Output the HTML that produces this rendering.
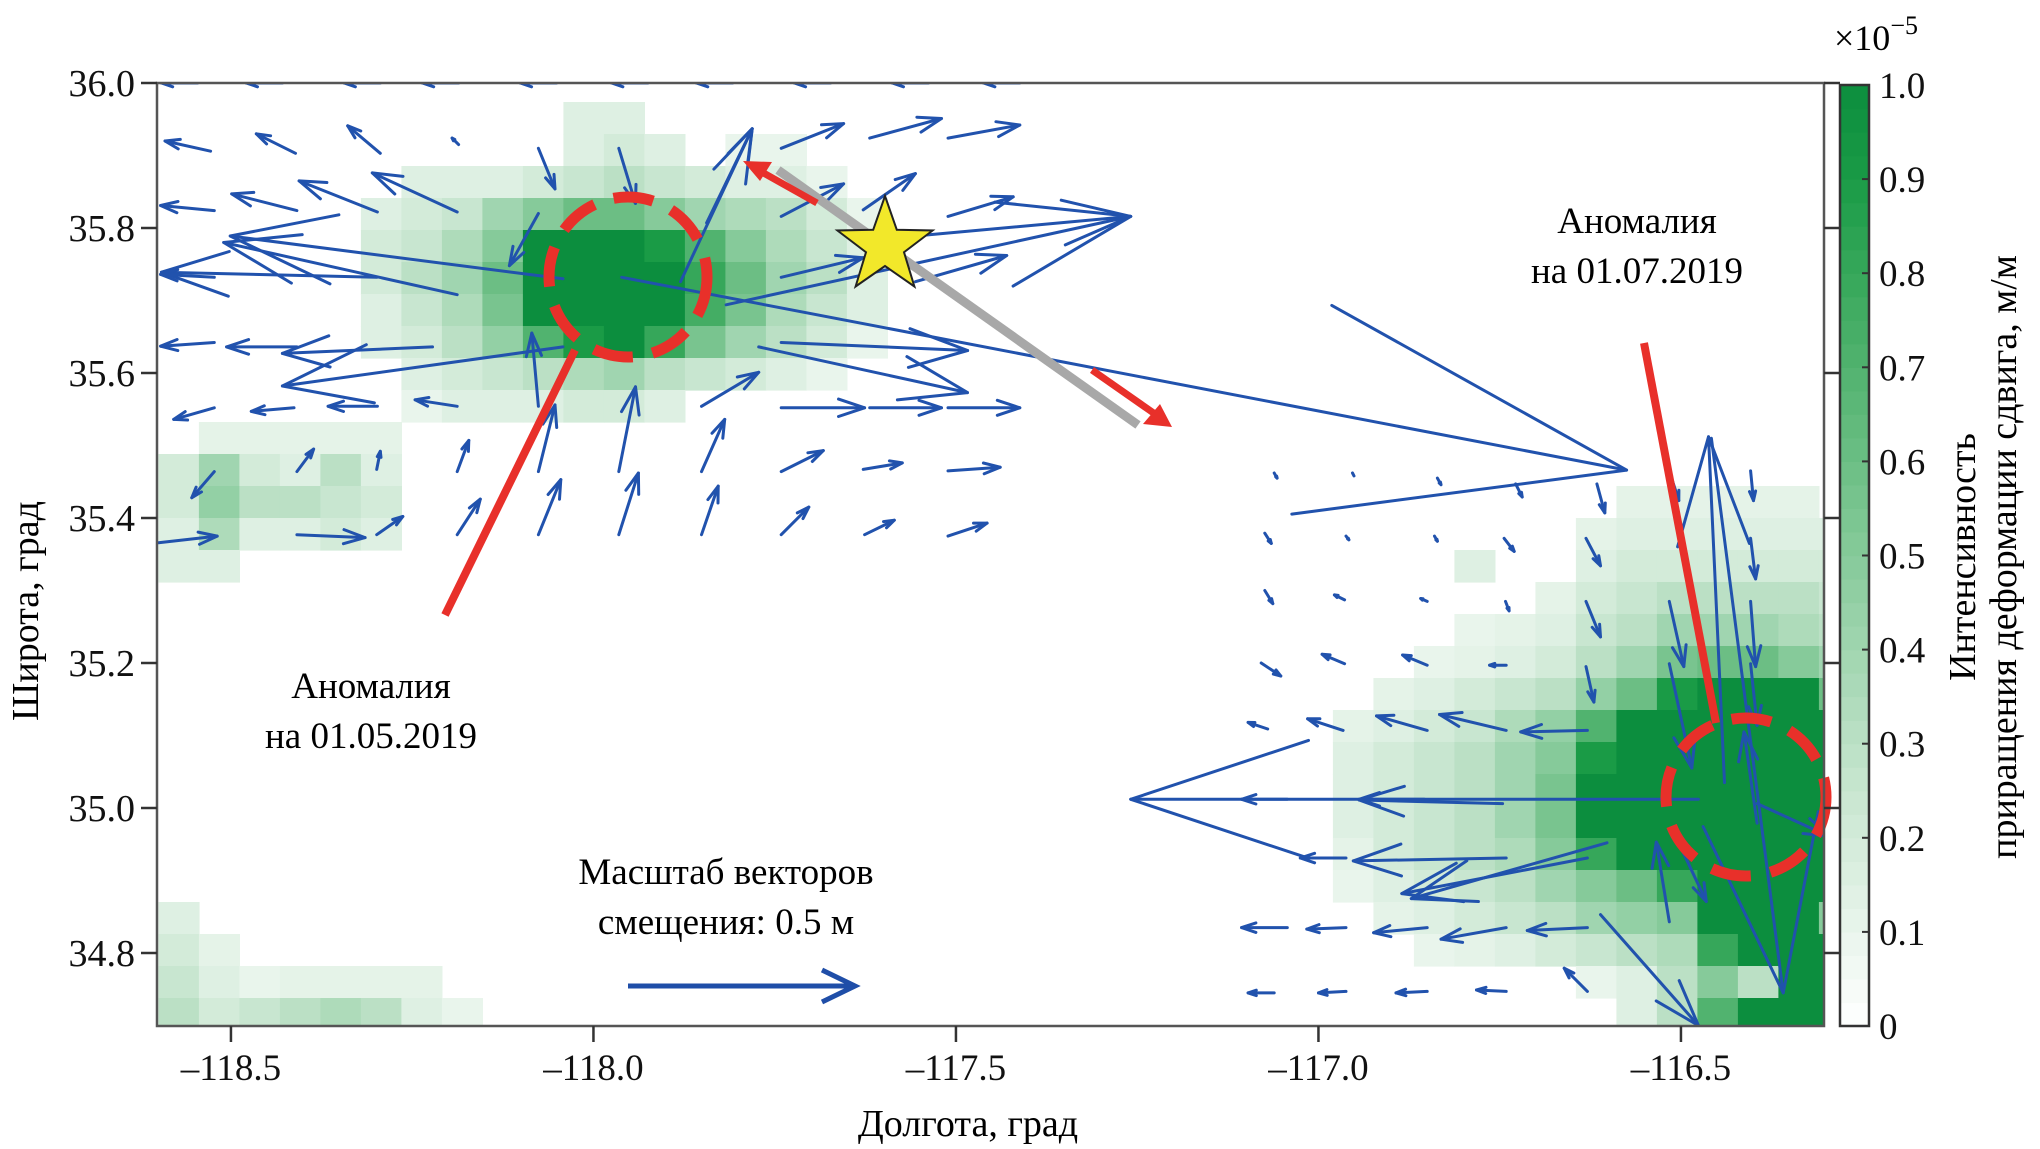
<!DOCTYPE html>
<html><head><meta charset="utf-8">
<style>
html,body{margin:0;padding:0;background:#fff;}
svg{display:block;font-family:"Liberation Serif",serif;}
</style></head>
<body>
<svg id="chart" width="2040" height="1149" viewBox="0 0 2040 1149" xmlns="http://www.w3.org/2000/svg">
<rect x="0" y="0" width="2040" height="1149" fill="#fff"/>
<clipPath id="plotclip"><rect x="157" y="83" width="1667" height="943"/></clipPath>
<g id="heat" clip-path="url(#plotclip)"></g>
<g id="arrows" clip-path="url(#plotclip)"></g>
<g id="annot">
  <line x1="778" y1="170" x2="1138" y2="425" stroke="#a8a8a8" stroke-width="9"/>
  <line x1="817" y1="203" x2="760" y2="171" stroke="#e8302a" stroke-width="7"/>
  <polygon points="743,161 772,162 760,181" fill="#e8302a"/>
  <line x1="1092" y1="370" x2="1155" y2="414" stroke="#e8302a" stroke-width="7"/>
  <polygon points="1172,427 1143,424 1160,404" fill="#e8302a"/>
  <polygon id="star" fill="#f2e82a" stroke="#222" stroke-width="2"/>
  <line x1="445" y1="615" x2="575" y2="350" stroke="#e8302a" stroke-width="8"/>
  <line x1="1644" y1="343" x2="1716" y2="723" stroke="#e8302a" stroke-width="8"/>
  <ellipse cx="628" cy="277" rx="79" ry="80" fill="none" stroke="#e8302a" stroke-width="11" stroke-dasharray="40 20"/>
  <ellipse cx="1746" cy="797" rx="80" ry="79" fill="none" stroke="#e8302a" stroke-width="11" stroke-dasharray="40 20"/>
  <text x="371" y="698" font-size="37" text-anchor="middle">Аномалия</text>
  <text x="371" y="748" font-size="37" text-anchor="middle">на 01.05.2019</text>
  <text x="1637" y="233" font-size="37" text-anchor="middle">Аномалия</text>
  <text x="1637" y="283" font-size="37" text-anchor="middle">на 01.07.2019</text>
  <text x="726" y="884" font-size="37" text-anchor="middle">Масштаб векторов</text>
  <text x="726" y="934" font-size="37" text-anchor="middle">смещения: 0.5 м</text>
  <line x1="628" y1="986" x2="855" y2="986" stroke="#1f4ea8" stroke-width="5"/>
  <polyline points="822,970 855,986 822,1002" fill="none" stroke="#1f4ea8" stroke-width="5"/>
</g>
<rect x="157" y="83" width="1667" height="943" fill="none" stroke="#555" stroke-width="2.5"/>
<g id="axes"></g>
<text x="968" y="1136" font-size="38" text-anchor="middle">Долгота, град</text>
<text transform="translate(38,611) rotate(-90)" font-size="38" text-anchor="middle">Широта, град</text>
<g id="cbar"></g>
<text x="1834" y="50" font-size="36">×10<tspan dy="-16" font-size="26">−5</tspan></text>
<text transform="translate(1975,557) rotate(-90)" font-size="38" text-anchor="middle">Интенсивность</text>
<text transform="translate(2016,557) rotate(-90)" font-size="38" text-anchor="middle">приращения деформации сдвига, м/м</text>
</svg>
<script>
// ---- data ----
const xTicks = [-118.5, -118.0, -117.5, -117.0, -116.5];
const xTickLabels = ["–118.5", "–118.0", "–117.5", "–117.0", "–116.5"];
const yTicks = [34.8, 35.0, 35.2, 35.4, 35.6, 35.8, 36.0];
const yTickLabels = ["34.8", "35.0", "35.2", "35.4", "35.6", "35.8", "36.0"];
const cbarTicks = [0, 0.1, 0.2, 0.3, 0.4, 0.5, 0.6, 0.7, 0.8, 0.9, 1.0];
const cbarTickLabels = ["0", "0.1", "0.2", "0.3", "0.4", "0.5", "0.6", "0.7", "0.8", "0.9", "1.0"];
const heatLon0 = -118.6, heatDLon = 0.05586, heatLat0 = 36.018, heatDLat = 0.04414;
// [row index, first column index, intensities]
const heatRows = [
 [1,10,[.15,.15]],
 [2,10,[.15,.2,.15,0,.1,.1]],
 [3,6,[.15,.15,.15,.2,.25,.3,.25,.2,.15,.15,.1]],
 [4,5,[.15,.2,.25,.4,.5,.6,.6,.5,.4,.35,.3,.2,.1]],
 [5,5,[.2,.25,.35,.5,1,1,1,.9,.7,.5,.35,.25,.15]],
 [6,5,[.2,.3,.4,.6,1,1,1,1,.8,.6,.4,.3,.15]],
 [7,5,[.15,.25,.35,.55,1,1,1,1,.75,.55,.35,.25,.15]],
 [8,5,[.15,.2,.3,.45,.7,.9,1,.8,.55,.4,.3,.2,.1]],
 [9,6,[.15,.2,.25,.3,.35,.4,.3,.25,.2,.15,.1]],
 [10,6,[.1,.15,.15,.15,.2,.2,.15]],
 [11,1,[.12,.12,.12,.12,.12]],
 [12,0,[.2,.4,.2,.15,.3,.15]],
 [13,0,[.2,.45,.3,.3,.25,.2]],
 [14,0,[.15,.35,.15,.15,.2,.15]],
 [15,0,[.15,.15]],
 [26,0,[.15]],
 [27,0,[.2,.12]],
 [28,0,[.25,.15,.1,.12,.12,.12,.12]],
 [29,0,[.3,.2,.25,.3,.35,.3,.15,.1]],
 [13,36,[.12,.12,.12,.12,.12]],
 [14,35,[.12,.15,.15,.15,.15,.15,.15]],
 [15,32,[.15,0,0,.15,.2,.2,.2,.2,.2,.2]],
 [16,34,[.12,.2,.25,.3,.3,.3,.3,.25]],
 [17,32,[.1,.12,.15,.25,.3,.4,.4,.4,.35,.3]],
 [18,31,[.1,.12,.15,.2,.3,.4,.55,.6,.6,.5,.4]],
 [19,30,[.12,.15,.2,.25,.3,.45,.6,.9,1,1,1,.6]],
 [20,29,[.12,.15,.2,.25,.35,.45,.7,1,1,1,1,1,1]],
 [21,29,[.15,.2,.25,.3,.4,.5,.9,1,1,1,1,1,1]],
 [22,29,[.15,.2,.25,.3,.4,.55,1,1,1,1,1,1,1]],
 [23,29,[.15,.2,.25,.3,.4,.55,1,1,1,1,1,1,1]],
 [24,29,[.12,.2,.25,.3,.35,.5,.8,1,1,1,1,1,1]],
 [25,29,[.1,.15,.2,.25,.3,.4,.5,.6,.8,1,1,1,1]],
 [26,30,[.12,.15,.2,.25,.3,.4,.45,.5,1,1,1,.5]],
 [27,31,[.1,.12,.15,.2,.25,.3,.35,.8,1,1,1]],
 [28,35,[.1,.15,.3,.5,.3,1,1]],
 [29,36,[.15,.3,.7,1,1,1]]
];
// vectors: tail lon, tail lat, u (deg lon), v (deg lat)
const vecLon = [
 -118.546,-118.429,-118.294,-118.186,-118.051,-117.925,-117.808,-117.673,-117.538,-117.412,
 -118.528,-118.411,-118.294,-118.186,-118.076,-117.965,-117.844,-117.88,-117.741,-117.619,-117.511,
 -118.523,-118.409,-118.298,-118.188,-118.076,-117.741,-117.628,-117.511,-117.556,-117.817,-117.556,
 -118.299,-118.042,-118.188,-117.741,-117.961,-118.523,
 -118.523,-118.409,-118.222,-118.042,-118.076,-117.741,-117.772,
 -118.523,-118.413,-118.298,-118.188,-117.851,-117.741,-117.619,-117.511,
 -118.523,-118.409,-118.299,-118.188,-118.076,-117.965,-117.851,-117.741,-117.628,-117.511,
 -118.6,-118.409,-118.299,-118.188,-118.076,-117.965,-117.851,-117.741,-117.626,-117.511,
 -117.061,-116.953,-116.836,-116.728,-116.616,-116.516,-116.404,
 -117.074,-116.962,-116.84,-116.744,-116.631,-116.404,
 -117.074,-116.964,-116.85,-116.742,-116.631,-116.516,-116.404,
 -117.079,-116.964,-116.85,-116.741,-116.631,-116.516,-116.404,
 -117.07,-116.966,-116.85,-116.741,-116.629,
 -116.476,-117.043,-116.854,-116.746,-116.395,-116.395,
 -116.962,-116.741,-116.602,-116.629,-116.516,-116.499,
 -117.043,-116.962,-116.85,-116.741,-116.629,
 -117.061,-116.962,-116.85,-116.741,-116.629,
 -116.458,-116.44,-116.611
];
const vecLat = [
 36.0,36.0,36.0,36.0,36.0,36.0,36.0,36.0,36.0,36.0,
 35.906,35.903,35.903,35.915,35.91,35.91,35.807,35.726,35.91,35.924,35.924,
 35.824,35.824,35.822,35.822,35.82,35.816,35.825,35.816,35.789,35.694,35.726,
 35.732,35.73,35.708,35.732,35.732,35.732,
 35.642,35.636,35.636,35.636,35.554,35.642,35.636,
 35.552,35.552,35.554,35.554,35.554,35.552,35.552,35.552,
 35.464,35.464,35.467,35.464,35.464,35.464,35.464,35.464,35.467,35.465,
 35.366,35.377,35.377,35.377,35.377,35.377,35.377,35.377,35.377,35.375,
 35.462,35.462,35.455,35.447,35.447,35.465,35.465,
 35.379,35.375,35.375,35.372,35.372,35.372,
 35.3,35.287,35.285,35.285,35.285,35.285,35.285,
 35.2,35.199,35.197,35.197,35.195,35.199,35.199,
 35.109,35.107,35.107,35.107,35.107,
 35.012,35.012,35.012,35.006,35.006,34.979,
 34.931,34.931,34.952,34.931,34.843,34.943,
 34.835,34.835,34.835,34.835,34.835,
 34.745,34.747,34.747,34.747,34.747,
 35.51,35.035,34.853
];
const vecU = [
 -0.05,-0.05,-0.05,-0.05,-0.05,-0.05,-0.05,-0.05,-0.05,-0.05,
 -0.063,-0.054,-0.045,-0.009,0.023,0.023,0.063,0.099,0.086,0.099,0.099,
 -0.074,-0.09,-0.108,-0.117,-0.04,0.086,0.072,0.09,0.297,0.558,0.126,
 -0.297,-0.459,-0.322,0.113,1.386,-0.074,
 -0.074,-0.097,-0.207,-0.387,-0.009,0.257,0.288,
 -0.056,-0.059,-0.068,-0.058,0.079,0.115,0.099,0.099,
 -0.031,0.023,0.005,0.016,0.023,0.023,0.032,0.058,0.054,0.072,
 0.081,0.094,0.036,0.032,0.031,0.027,0.023,0.038,0.041,0.054,
 0.004,0.002,0.005,0.009,0.011,0.013,0.004,
 0.009,0.004,0.004,0.014,0.02,0.007,
 0.011,-0.014,-0.009,0.005,0.02,0.02,0.007,
 0.027,-0.031,-0.034,-0.023,0.011,0.031,0.009,
 -0.027,-0.049,-0.07,-0.092,-0.092,
 -0.783,-0.063,-0.09,-0.198,0.099,-0.018,
 -0.063,-0.211,-0.27,-0.256,-0.018,0.034,
 -0.063,-0.054,-0.074,-0.09,-0.083,
 -0.036,-0.038,-0.043,-0.041,-0.032,
 0.099,-0.022,0.135
];
const vecV = [
 0,0,0,0,0,0,0,0,0,0,
 0.014,0.027,0.038,0.009,-0.056,-0.076,0.13,0.211,0.034,0.027,0.018,
 0.007,0.023,0.043,0.054,-0.072,0.045,0.05,0.027,0.027,0.122,0.036,
 0.007,0.059,0.072,0.027,-0.266,0.004,
 -0.005,0,-0.009,-0.054,0.101,-0.011,-0.063,
 -0.016,-0.005,0,0.009,0.047,0,0,0,
 -0.036,0.031,0.025,0.043,0.092,0.117,0.072,0.029,0.009,0.005,
 0.009,-0.004,0.025,0.049,0.076,0.085,0.067,0.038,0.02,0.018,
 -0.007,-0.004,-0.009,-0.018,-0.04,-0.041,-0.041,
 -0.014,-0.005,-0.007,-0.018,-0.038,-0.056,
 -0.018,0.007,0.004,-0.013,-0.049,-0.09,-0.09,
 -0.018,0.013,0.014,0,-0.049,-0.144,-0.085,
 0.009,0.016,0.02,0.022,-0.002,
 0,0,0,0.005,-0.045,0.126,
 0,-0.004,-0.077,-0.049,0.11,-0.072,
 0,-0.002,-0.007,-0.016,-0.004,
 0,-0.002,-0.002,0.002,0.032,
 -0.765,0.477,-0.153
];

// ---- scales ----
const LON0 = -118.602, LAT1 = 36.0, PX = 725, X0 = 157, Y0 = 83;
function xS(lon){ return X0 + (lon - LON0) * PX; }
function yS(lat){ return Y0 + (LAT1 - lat) * PX; }
const CB_X = 1840, CB_W = 29, CB_TOP = 85, CB_BOT = 1026;
function cbY(v){ return CB_BOT - v * (CB_BOT - CB_TOP); }
const stops = [[0,[255,255,255]],[0.25,[200,230,208]],[0.5,[134,202,154]],[0.75,[68,173,100]],[0.9,[26,155,70]],[1,[12,142,62]]];
function color(v){
  v = Math.max(0, Math.min(1, v));
  for (let i = 1; i < stops.length; i++){
    if (v <= stops[i][0]){
      const a = stops[i-1], b = stops[i], t = (v - a[0]) / (b[0] - a[0]);
      const c = a[1].map((c0, k) => Math.round(c0 + (b[1][k] - c0) * t));
      return `rgb(${c[0]},${c[1]},${c[2]})`;
    }
  }
  return "rgb(12,142,62)";
}
const NS = "http://www.w3.org/2000/svg";
function mk(tag, attrs, parent){
  const e = document.createElementNS(NS, tag);
  for (const k in attrs) e.setAttribute(k, attrs[k]);
  parent.appendChild(e);
  return e;
}

// ---- heatmap ----
const heat = document.getElementById("heat");
heatRows.forEach(r => {
  const row = r[0], c0 = r[1];
  r[2].forEach((v, k) => {
    if (v <= 0) return;
    const lonL = heatLon0 + (c0 + k) * heatDLon, lonR = lonL + heatDLon;
    const latT = heatLat0 - row * heatDLat, latB = latT - heatDLat;
    const x = xS(lonL), y = yS(latT);
    const el = mk("rect", {x: x.toFixed(1), y: y.toFixed(1), width: (xS(lonR) - x + 0.6).toFixed(1), height: (yS(latB) - y + 0.6).toFixed(1), fill: color(v)}, heat);
    
    
  });
});

// ---- vectors ----
const arrows = document.getElementById("arrows");
for (let i = 0; i < vecLon.length; i++){
  const x1 = xS(vecLon[i]), y1 = yS(vecLat[i]);
  const x2 = xS(vecLon[i] + vecU[i]), y2 = yS(vecLat[i] + vecV[i]);
  const dx = x2 - x1, dy = y2 - y1, L = Math.hypot(dx, dy);
  const g = mk("g", {stroke: "#2152ad", "stroke-width": 3, fill: "none", "stroke-linecap": "round", "stroke-linejoin": "round"}, arrows);
  
  
  mk("line", {x1: x1.toFixed(1), y1: y1.toFixed(1), x2: x2.toFixed(1), y2: y2.toFixed(1)}, g);
  if (L > 4){
    const hl = L * 0.33, ang = Math.atan2(dy, dx), a = 0.32;
    const p1 = [x2 - hl * Math.cos(ang - a), y2 - hl * Math.sin(ang - a)];
    const p2 = [x2 - hl * Math.cos(ang + a), y2 - hl * Math.sin(ang + a)];
    mk("polyline", {points: `${p1[0].toFixed(1)},${p1[1].toFixed(1)} ${x2.toFixed(1)},${y2.toFixed(1)} ${p2[0].toFixed(1)},${p2[1].toFixed(1)}`}, g);
  }
}

// ---- star ----
(function(){
  const cx = 885, cy = 246, R = 50, r = 20, pts = [];
  for (let k = 0; k < 10; k++){
    const rad = k % 2 ? r : R, a = -Math.PI / 2 + k * Math.PI / 5;
    pts.push((cx + rad * Math.cos(a)).toFixed(1) + "," + (cy + rad * Math.sin(a)).toFixed(1));
  }
  document.getElementById("star").setAttribute("points", pts.join(" "));
})();

// ---- axes ----
const axes = document.getElementById("axes");
xTicks.forEach((t, i) => {
  const x = xS(t);
  const l = mk("line", {x1: x, y1: 1026, x2: x, y2: 1042, stroke: "#333", "stroke-width": 2.5}, axes);
  
  
  const tx = mk("text", {x: x, y: 1080, "font-size": 37, "text-anchor": "middle", fill: "#111"}, axes);
  tx.textContent = xTickLabels[i];
  
  
});
yTicks.forEach((t, i) => {
  const y = yS(t);
  const l = mk("line", {x1: 141, y1: y, x2: 157, y2: y, stroke: "#333", "stroke-width": 2.5}, axes);
  
  
  const r = mk("line", {x1: 1824, y1: y, x2: 1840, y2: y, stroke: "#333", "stroke-width": 2.5}, axes);
  
  
  const tx = mk("text", {x: 135, y: y + 13, "font-size": 38, "text-anchor": "end", fill: "#111"}, axes);
  tx.textContent = yTickLabels[i];
  
  
});

// ---- colorbar ----
const cbar = document.getElementById("cbar");
const NSEG = 40;
for (let k = 0; k < NSEG; k++){
  const v0 = k / NSEG, v1 = (k + 1) / NSEG;
  const s = mk("rect", {x: CB_X, y: cbY(v1).toFixed(1), width: CB_W, height: (cbY(v0) - cbY(v1) + 0.6).toFixed(1), fill: color((v0 + v1) / 2)}, cbar);
  
  
}
const cbf = mk("rect", {x: CB_X, y: CB_TOP, width: CB_W, height: CB_BOT - CB_TOP, fill: "none", stroke: "#333", "stroke-width": 2.5}, cbar);


cbarTicks.forEach((t, i) => {
  const y = cbY(t);
  const l = mk("line", {x1: CB_X + CB_W - 7, y1: y, x2: CB_X + CB_W, y2: y, stroke: "#333", "stroke-width": 2}, cbar);
  
  
  const tx = mk("text", {x: 1879, y: y + 13, "font-size": 37, fill: "#111"}, cbar);
  tx.textContent = cbarTickLabels[i];
  
  
});
</script>
</body></html>
